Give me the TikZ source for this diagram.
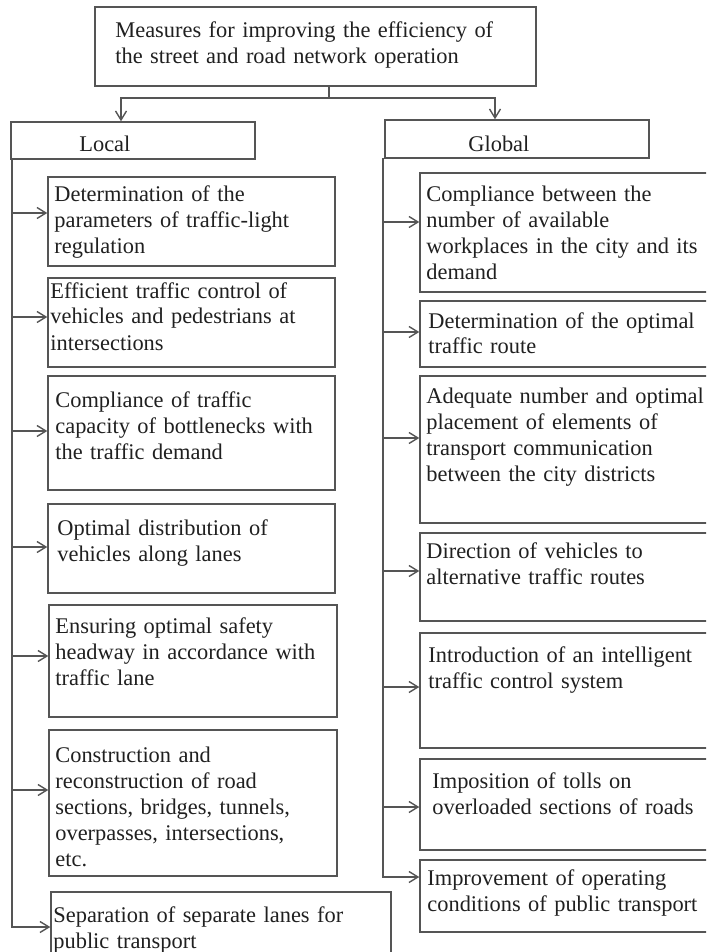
\documentclass[tikz,border=0pt]{standalone}
\usepackage{fontspec}
\setmainfont{Liberation Serif}
\usetikzlibrary{arrows.meta,fit}
\definecolor{ink}{HTML}{202020}
\definecolor{rule}{HTML}{555555}
\tikzset{
  box/.style={draw=rule, line width=0.7pt, inner sep=0pt, rectangle},
  txt/.style={inner sep=0pt, anchor=base west, align=left, text width=320pt,
    text=ink, font=\fontsize{11.2pt}{13pt}\selectfont},
  link/.style={draw=rule, line width=0.7pt},
  arr/.style={link, -{Straight Barb[length=4.5pt,width=5.5pt]}},
}
\begin{document}
\begin{tikzpicture}[x=0.5pt, y=-0.5pt]
  \useasboundingbox (0,0) rectangle (706,952);
  \fill[white] (0,0) rectangle (706,952);
  \clip (0,0) rectangle (706,952);

  % root and the two groups
  \node[box, fit={(95,7) (536,86)}] (root) {};
  \node[txt] (roott) at (115,38) {Measures for improving the efficiency of\\the street and road network operation};

  \node[box, fit={(11,122) (255,159)}] (local) {};
  \node[txt] (localt) at (79,152) {Local};
  \node[box, fit={(385,120) (649,158)}] (global) {};
  \node[txt] (globalt) at (468,152) {Global};

  \coordinate (split) at (329,98);
  \coordinate (jl) at (121,98);
  \coordinate (jg) at (495,98);
  \draw[link] (root.south -| split) -- (split);
  \draw[arr] (split) -- (jl) -- (jl |- local.north);
  \draw[arr] (split) -- (jg) -- (jg |- global.north);

  % local measures
  \node[box, fit={(48,177) (335,266)}] (l1) {};
  \node[txt] at (54,202) {Determination of the\\parameters of traffic-light\\regulation};
  \node[box, fit={(48,278) (335,367)}] (l2) {};
  \node[txt] at (50,298) {Efficient traffic control of\\vehicles and pedestrians at\\intersections};
  \node[box, fit={(48,376) (335,490)}] (l3) {};
  \node[txt] at (55,407) {Compliance of traffic\\capacity of bottlenecks with\\the traffic demand};
  \node[box, fit={(48,504) (335,593)}] (l4) {};
  \node[txt] at (57,535) {Optimal distribution of\\vehicles along lanes};
  \node[box, fit={(49,605) (337,717)}] (l5) {};
  \node[txt] at (55,633) {Ensuring optimal safety\\headway in accordance with\\traffic lane};
  \node[box, fit={(49,730) (337,876)}] (l6) {};
  \node[txt] at (55,762) {Construction and\\reconstruction of road\\sections, bridges, tunnels,\\overpasses, intersections,\\etc.};
  \node[box, fit={(51,892) (391,960)}] (l7) {};
  \node[txt] at (53,922) {Separation of separate lanes for\\public transport};

  \coordinate (ltop) at (12,159);
  \coordinate (lend) at (12,927);
  \coordinate (la1) at (12,213);
  \coordinate (la2) at (12,317);
  \coordinate (la3) at (12,431);
  \coordinate (la4) at (12,547);
  \coordinate (la5) at (12,656);
  \coordinate (la6) at (12,790);
  \draw[arr] (ltop) -- (lend) -- (lend -| l7.west);
  \foreach \i in {1,...,6} \draw[arr] (la\i) -- (la\i -| l\i.west);

  % global measures
  \node[box, fit={(420,173) (708,292)}] (g1) {};
  \node[txt] at (426,202) {Compliance between the\\number of available\\workplaces in the city and its\\demand};
  \node[box, fit={(420,301) (708,367)}] (g2) {};
  \node[txt] at (428,328) {Determination of the optimal\\traffic route};
  \node[box, fit={(420,376) (708,523)}] (g3) {};
  \node[txt] at (426,403) {Adequate number and optimal\\placement of elements of\\transport communication\\between the city districts};
  \node[box, fit={(420,533) (708,621)}] (g4) {};
  \node[txt] at (426,558) {Direction of vehicles to\\alternative traffic routes};
  \node[box, fit={(420,633) (708,748)}] (g5) {};
  \node[txt] at (428,662) {Introduction of an intelligent\\traffic control system};
  \node[box, fit={(420,759) (708,850)}] (g6) {};
  \node[txt] at (432,788) {Imposition of tolls on\\overloaded sections of roads};
  \node[box, fit={(420,860) (708,932)}] (g7) {};
  \node[txt] at (427,885) {Improvement of operating\\conditions of public transport};

  \coordinate (gtop) at (383,158);
  \coordinate (gend) at (383,877);
  \coordinate (ga1) at (383,222);
  \coordinate (ga2) at (383,332);
  \coordinate (ga3) at (383,438);
  \coordinate (ga4) at (383,571);
  \coordinate (ga5) at (383,687);
  \coordinate (ga6) at (383,807);
  \draw[arr] (gtop) -- (gend) -- (gend -| g7.west);
  \foreach \i in {1,...,6} \draw[arr] (ga\i) -- (ga\i -| g\i.west);
\end{tikzpicture}
\end{document}
